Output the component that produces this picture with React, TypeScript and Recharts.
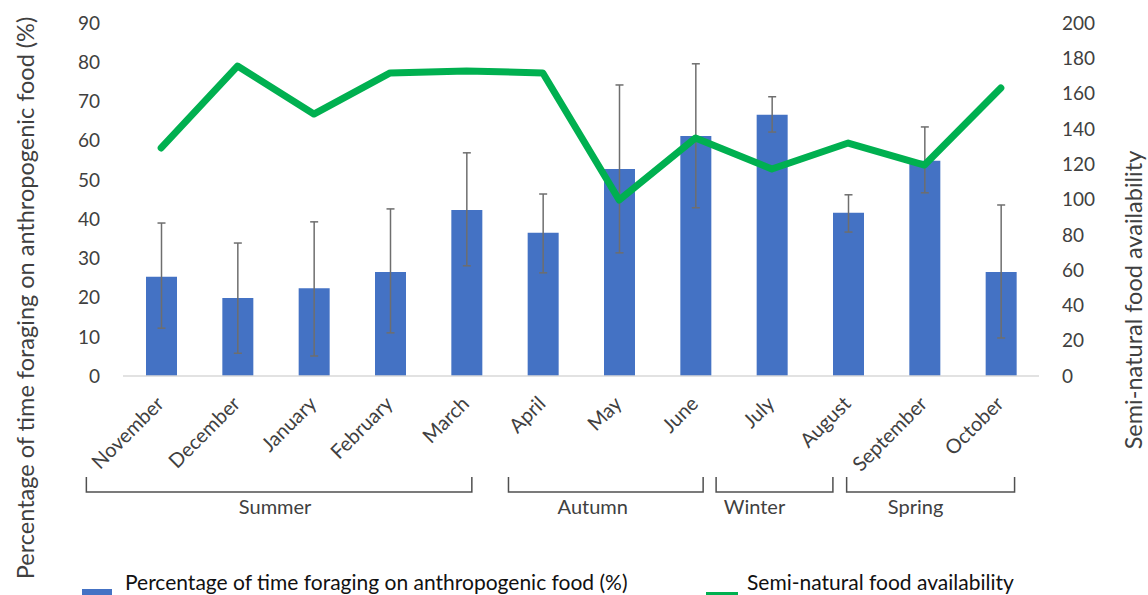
import React from 'react';
import { ComposedChart, Bar, Line, XAxis, YAxis, ErrorBar, Legend } from 'recharts';

// ---------- data ----------
const months = ['November', 'December', 'January', 'February', 'March', 'April', 'May', 'June', 'July', 'August', 'September', 'October'];
const foraging = [25.3, 19.9, 22.4, 26.5, 42.3, 36.5, 52.8, 61.2, 66.6, 41.6, 54.9, 26.5];
const foragingUpper = [39.0, 33.9, 39.3, 42.6, 56.9, 46.4, 74.2, 79.6, 71.2, 46.2, 63.5, 43.6];
const foragingLower = [12.2, 5.8, 5.1, 11.0, 28.1, 26.3, 31.4, 42.9, 62.2, 36.7, 46.7, 9.7];
const semiNatural = [129.2, 175.6, 148.4, 171.7, 172.8, 171.7, 99.7, 134.8, 117.3, 132.0, 119.5, 163.2];

const leftTicks = [0, 10, 20, 30, 40, 50, 60, 70, 80, 90];
const rightTicks = [0, 20, 40, 60, 80, 100, 120, 140, 160, 180, 200];

const seasonNames = ['Summer', 'Autumn', 'Winter', 'Spring'];
const seasonFirstMonth = ['November', 'April', 'July', 'September'];
const seasonLastMonth = ['March', 'June', 'August', 'October'];

const seriesNames = ['Percentage of time foraging on anthropogenic food (%)', 'Semi-natural food availability'];
const leftTitle = 'Percentage of time foraging on anthropogenic food (%)';
const rightTitle = 'Semi-natural food availability';

// ---------- layout / style ----------
const W = 1148;
const H = 595;
const MARGIN = { top: 23, right: 49, left: 63, bottom: 0 };
const YAXIS_W = 60;
const PLOT_W = W - MARGIN.left - MARGIN.right - 2 * YAXIS_W;
const BAND = PLOT_W / months.length;
const FONT = 'Lato, "Open Sans", "DejaVu Sans", sans-serif';
const TEXT = '#404040';
const BLUE = '#4472C4';
const GREEN = '#00B050';
const TICK_SIZE = 6;

// bracket extents in band units relative to first / last month centre
const BRACKET_PAD = [[-0.98, 0.07], [-0.45, 0.1], [-0.73, -0.2], [-1.02, 0.18]];
const LABEL_SHIFT = [-4, -13, -20, -15];

const data = months.map((m, i) => ({
  month: m,
  foraging: foraging[i],
  err: [+(foraging[i] - foragingLower[i]).toFixed(2), +(foragingUpper[i] - foraging[i]).toFixed(2)],
  semi: semiNatural[i],
}));

function MonthTick(props: any) {
  const { x, y, payload } = props;
  const base = y - TICK_SIZE; // axis line
  const name = payload.value as string;
  const s = seasonFirstMonth.indexOf(name);
  let bracket: React.ReactNode = null;
  if (s >= 0) {
    const count = months.indexOf(seasonLastMonth[s]) - months.indexOf(name) + 1;
    const sx = x + BRACKET_PAD[s][0] * BAND;
    const ex = x + (count - 1) * BAND + BRACKET_PAD[s][1] * BAND;
    const top = base + 101;
    const bot = base + 116;
    bracket = (
      <g>
        <path d={`M${sx},${top} V${bot} H${ex} V${top}`} fill="none" stroke="#505050" strokeWidth={1.5} />
        <text x={(sx + ex) / 2 + LABEL_SHIFT[s]} y={base + 138} textAnchor="middle" fontSize={20} fill={TEXT} fontFamily={FONT}>
          {seasonNames[s]}
        </text>
      </g>
    );
  }
  const ax = x + 4;
  const ay = base + 29;
  return (
    <g>
      <text x={ax} y={ay} transform={`rotate(-45 ${ax} ${ay})`} textAnchor="end" fontSize={20} fill={TEXT} fontFamily={FONT}>
        {name}
      </text>
      {bracket}
    </g>
  );
}

function renderLegend() {
  return (
    <div style={{ position: 'relative', width: W, height: 40, fontFamily: FONT, fontSize: 21, color: '#111' }}>
      <div style={{ position: 'absolute', left: 82, top: 34, width: 30, height: 10, background: BLUE }} />
      <div style={{ position: 'absolute', left: 125, top: 16, lineHeight: '21px', whiteSpace: 'nowrap' }}>{seriesNames[0]}</div>
      <div style={{ position: 'absolute', left: 706, top: 37, width: 32, height: 10, background: GREEN }} />
      <div style={{ position: 'absolute', left: 747, top: 16, lineHeight: '21px', whiteSpace: 'nowrap' }}>{seriesNames[1]}</div>
    </div>
  );
}

export default function App() {
  return (
    <div style={{ position: 'absolute', left: 0, top: 0, width: W, height: H, overflow: 'hidden', background: '#fff' }}>
      <ComposedChart width={W} height={H} data={data} margin={MARGIN}>
        <XAxis
          dataKey="month"
          xAxisId={0}
          interval={0}
          tickLine={false}
          tickSize={TICK_SIZE}
          tickMargin={0}
          axisLine={{ stroke: '#d9d9d9', strokeWidth: 1.5 }}
          height={179}
          tick={(p: any) => <MonthTick {...p} />}
        />
        <YAxis
          yAxisId="left"
          orientation="left"
          width={YAXIS_W}
          domain={[0, 90]}
          ticks={leftTicks}
          interval={0}
          axisLine={false}
          tickLine={false}
          tickSize={TICK_SIZE}
          tickMargin={17}
          tick={{ fontSize: 19, fill: TEXT, fontFamily: FONT }}
          label={() => (
            <text x={25} y={298} transform="rotate(-90 25 298)" textAnchor="middle" dominantBaseline="central" fontSize={23.5} fill={TEXT} fontFamily={FONT}>
              {leftTitle}
            </text>
          )}
        />
        <YAxis
          yAxisId="right"
          orientation="right"
          width={YAXIS_W}
          domain={[0, 200]}
          ticks={rightTicks}
          interval={0}
          axisLine={false}
          tickLine={false}
          tickSize={TICK_SIZE}
          tickMargin={17}
          tick={{ fontSize: 19, fill: TEXT, fontFamily: FONT, textAnchor: 'start' }}
          label={() => (
            <text x={1133} y={300} transform="rotate(-90 1133 300)" textAnchor="middle" dominantBaseline="central" fontSize={23.5} fill={TEXT} fontFamily={FONT}>
              {rightTitle}
            </text>
          )}
        />
        <Legend content={renderLegend} height={40} wrapperStyle={{ left: 0, bottom: 0, width: W }} />
        <Bar yAxisId="left" dataKey="foraging" name={seriesNames[0]} fill={BLUE} barSize={31} isAnimationActive={false}>
          <ErrorBar dataKey="err" direction="y" width={4} stroke="#6e6e6e" strokeWidth={1.5} isAnimationActive={false} />
        </Bar>
        <Line
          yAxisId="right"
          dataKey="semi"
          name={seriesNames[1]}
          type="linear"
          stroke={GREEN}
          strokeWidth={7}
          strokeLinejoin="round"
          strokeLinecap="round"
          dot={false}
          activeDot={false}
          isAnimationActive={false}
        />
      </ComposedChart>
    </div>
  );
}
